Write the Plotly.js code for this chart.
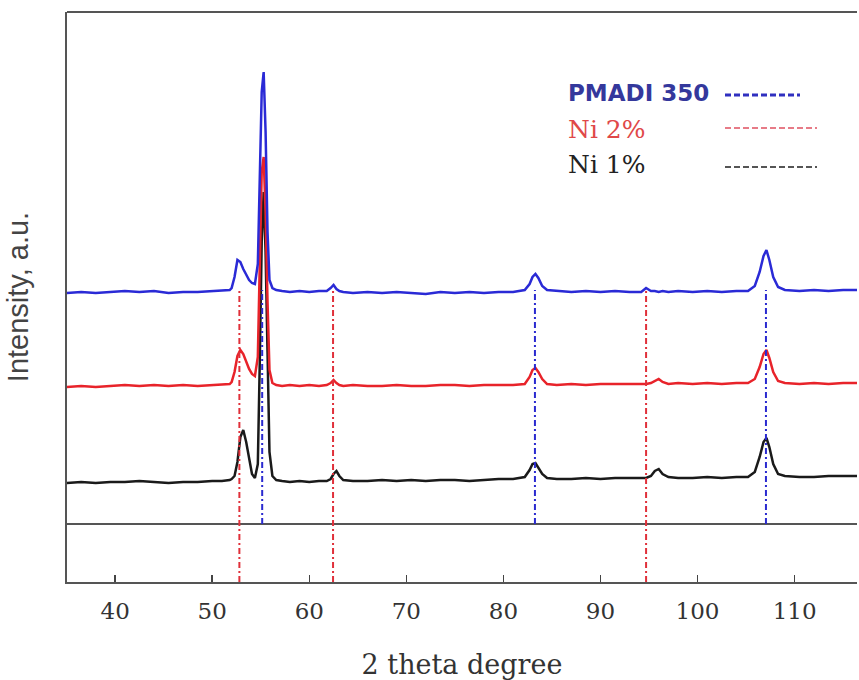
<!DOCTYPE html>
<html><head><meta charset="utf-8">
<script src="https://cdn.plot.ly/plotly-3.0.1.min.js"></script>
<style>html,body{margin:0;padding:0;background:#fff}#chart{width:859px;height:680px}</style>
</head><body><div id="chart"></div>
<script>
// 2-theta sampling positions (degrees)
const twoTheta = [35.0,36.5,38.0,39.5,41.0,42.5,44.0,45.5,47.0,48.5,50.0,51.0,51.8,52.0,52.3,52.6,52.9,53.2,53.5,53.8,54.1,54.4,54.7,54.9,55.1,55.3,55.5,55.7,55.9,56.2,56.6,57.2,58.0,59.0,60.0,61.0,61.8,62.2,62.5,62.8,63.1,63.5,64.5,66.0,67.5,69.0,70.5,72.0,73.5,75.0,76.5,78.0,79.5,81.0,82.2,82.7,83.0,83.3,83.6,84.0,84.5,85.5,87.0,88.5,90.0,91.5,93.0,94.2,94.7,95.2,95.6,96.0,96.4,97.0,98.0,99.5,101.0,102.5,104.0,105.2,105.9,106.4,106.8,107.1,107.4,107.8,108.3,109.0,110.5,112.0,113.5,115.0,116.5];
// intensities (a.u., offset stacks)
const pmadi350 = [289,290,289,290,291,290,291,289,290,290,291,291,292,294,305,322,320,313,307,302,299,298,318,420,490,510,450,350,302,294,292,291,290,291,290,291,291,294,297,293,291,290,289,290,289,290,289,288,290,289,290,289,290,290,292,298,305,308,304,296,292,291,290,291,290,291,290,290,294,291,291,290,291,290,291,290,291,290,291,291,296,310,326,332,322,305,295,292,291,292,291,292,292];
const ni2 = [195,196,195,196,197,196,197,196,197,196,197,197,198,200,210,226,232,228,220,213,208,206,225,330,410,425,370,280,212,199,197,196,197,196,197,196,197,199,202,199,197,196,197,196,196,197,196,196,197,197,196,197,197,197,198,205,212,214,210,203,198,197,198,197,198,198,198,198,198,199,201,203,200,198,199,198,199,198,199,199,203,215,228,232,224,210,201,199,198,199,198,199,199];
const ni1 = [99,100,99,100,100,101,100,99,100,100,101,101,102,103,106,120,145,152,140,122,108,104,118,220,340,390,330,230,130,106,102,101,100,101,100,101,101,103,108,111,106,102,101,101,102,101,102,101,102,102,101,102,103,103,105,112,118,119,114,108,104,103,103,104,103,104,104,104,104,106,111,113,108,105,104,104,105,104,105,105,110,125,140,144,135,118,108,106,105,105,106,106,106];
const seriesNames = ['PMADI 350','Ni 2%','Ni 1%'];
// reference peak marker positions (degrees)
const redRefX = [52.8, 62.45, 94.7];
const blueRefX = [55.15, 83.25, 107.05];
const xTicks = [40,50,60,70,80,90,100,110];
const baselineLevel = 58;

const L=67, T=12, W=790, H=570;
const px = v => (v-L)/W;
const py = v => (T+H-v)/H;

const traces = [
  {x: twoTheta, y: ni1, name: seriesNames[2], mode:'lines', line:{color:'#1a1a1a', width:2.5}},
  {x: twoTheta, y: ni2, name: seriesNames[1], mode:'lines', line:{color:'#e8232a', width:2.5}},
  {x: twoTheta, y: pmadi350, name: seriesNames[0], mode:'lines', line:{color:'#2a2ad6', width:2.5}}
];

const shapes = [];
shapes.push({type:'line', xref:'paper', yref:'paper', x0:0, x1:1, y0:1, y1:1, line:{color:'#555', width:2}});
shapes.push({type:'line', xref:'paper', yref:'y', x0:0, x1:1, y0:baselineLevel, y1:baselineLevel, line:{color:'#555', width:2}});
redRefX.forEach(v => shapes.push({type:'line', xref:'x', yref:'y', x0:v, x1:v, y0:0, y1:292, layer:'above', line:{color:'#e0303a', width:2, dash:'6px,3px,2px,3px'}}));
blueRefX.forEach(v => shapes.push({type:'line', xref:'x', yref:'y', x0:v, x1:v, y0:baselineLevel, y1:292, layer:'above', line:{color:'#2a2ad0', width:2, dash:'6px,3px,2px,3px'}}));
shapes.push({type:'line', xref:'paper', yref:'paper', x0:px(725), x1:px(800), y0:py(95), y1:py(95), line:{color:'#3030c0', width:3, dash:'6px,3px'}});
shapes.push({type:'line', xref:'paper', yref:'paper', x0:px(725), x1:px(817), y0:py(128), y1:py(128), line:{color:'#e05060', width:1.5, dash:'6px,3px'}});
shapes.push({type:'line', xref:'paper', yref:'paper', x0:px(725), x1:px(817), y0:py(167), y1:py(167), line:{color:'#555', width:2, dash:'6px,3px'}});

const annotations = [
  {text: seriesNames[0], xref:'paper', yref:'paper', x:px(566), y:py(93), xanchor:'left', yanchor:'middle', showarrow:false, font:{family:'DejaVu Sans', size:23, color:'#34389c', weight:'bold'}},
  {text: seriesNames[1], xref:'paper', yref:'paper', x:px(566), y:py(129), xanchor:'left', yanchor:'middle', showarrow:false, font:{family:'DejaVu Serif', size:25, color:'#e04848'}},
  {text: seriesNames[2], xref:'paper', yref:'paper', x:px(566), y:py(164), xanchor:'left', yanchor:'middle', showarrow:false, font:{family:'DejaVu Serif', size:25, color:'#222'}}
];

const layout = {
  width:859, height:680,
  margin:{l:L, r:859-L-W, t:T, b:680-T-H},
  paper_bgcolor:'#fff', plot_bgcolor:'#fff',
  showlegend:false,
  xaxis:{range:[35.04,116.43], tickvals:xTicks, ticks:'inside', ticklen:7, tickwidth:1.5, tickcolor:'#444',
         ticklabelstandoff:7,
         showline:true, linecolor:'#555', linewidth:2, showgrid:false, zeroline:false,
         tickfont:{family:'DejaVu Serif', size:23, color:'#333'},
         title:{text:'2 theta degree', font:{family:'DejaVu Serif', size:27, color:'#333'}, standoff:34}},
  yaxis:{range:[0,570], showticklabels:false, ticks:'', showline:true, linecolor:'#555', linewidth:2, showgrid:false, zeroline:false,
         title:{text:'Intensity, a.u.', font:{family:'Liberation Sans', size:29, color:'#444'}, standoff:28}},
  shapes: shapes,
  annotations: annotations
};
Plotly.newPlot('chart', traces, layout, {staticPlot:true, displayModeBar:false});
</script></body></html>
